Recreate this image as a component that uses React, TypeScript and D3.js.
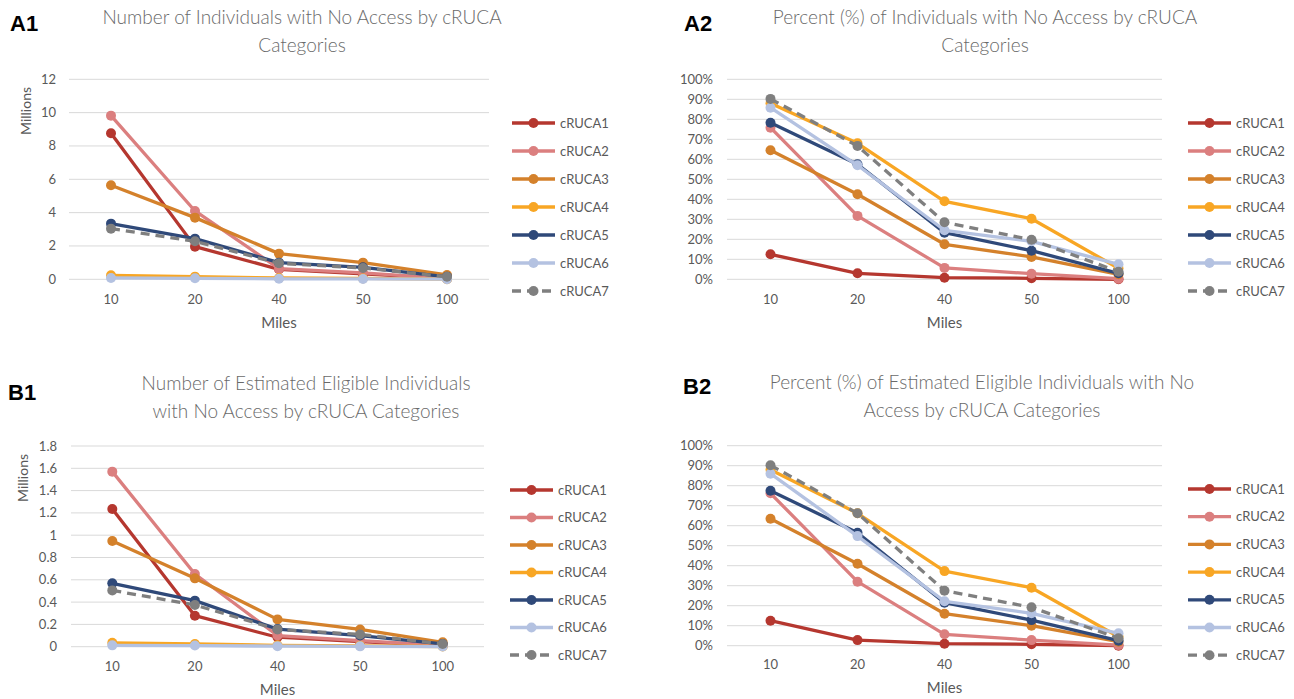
import React from "react";
import * as d3 from "d3";

const miles = ["10", "20", "40", "50", "100"];
const categories = ["cRUCA1", "cRUCA2", "cRUCA3", "cRUCA4", "cRUCA5", "cRUCA6", "cRUCA7"];
const colors = ["#B5372F", "#DB7F7F", "#D4812B", "#F8A624", "#2F4979", "#B4C2E1", "#7F7F7F"];

// A1: number of individuals with no access (millions)
const a1Millions = [
  [8.76, 1.96, 0.6, 0.32, 0.05],
  [9.82, 4.1, 0.64, 0.38, 0.04],
  [5.64, 3.7, 1.54, 1.0, 0.26],
  [0.24, 0.16, 0.08, 0.05, 0.01],
  [3.34, 2.44, 1.0, 0.72, 0.15],
  [0.08, 0.06, 0.03, 0.02, 0.01],
  [3.04, 2.28, 0.96, 0.68, 0.15],
];
// A2: percent of individuals with no access
const a2Percent = [
  [12.5, 3, 0.8, 0.5, 0],
  [75.8, 31.7, 5.7, 2.8, 0.3],
  [64.5, 42.5, 17.5, 11.2, 2.5],
  [88, 68, 39, 30.3, 5.5],
  [78.3, 57.5, 23.3, 14.3, 3],
  [85.8, 57, 24.5, 19, 7.5],
  [90.2, 66.7, 28.5, 19.8, 3.8],
];
// B1: number of estimated eligible individuals with no access (millions)
const b1Millions = [
  [1.235, 0.278, 0.085, 0.045, 0.01],
  [1.57, 0.652, 0.1, 0.055, 0.012],
  [0.948, 0.613, 0.245, 0.155, 0.039],
  [0.035, 0.025, 0.012, 0.008, 0.002],
  [0.568, 0.413, 0.158, 0.1, 0.025],
  [0.012, 0.01, 0.005, 0.003, 0.001],
  [0.505, 0.374, 0.155, 0.11, 0.025],
];
// B2: percent of estimated eligible individuals with no access
const b2Percent = [
  [12.5, 2.8, 1, 0.7, 0],
  [76.2, 32, 5.7, 2.8, 0.3],
  [63.5, 41, 16, 10, 2],
  [88, 66.2, 37.3, 29, 4.5],
  [77.5, 56.5, 21.5, 12.8, 2.5],
  [86, 54.8, 22.2, 16.2, 6.2],
  [90.2, 66.2, 27.5, 19.2, 3.7],
];

const aMillionTicks = [0, 2, 4, 6, 8, 10, 12];
const bMillionTicks = [0, 0.2, 0.4, 0.6, 0.8, 1, 1.2, 1.4, 1.6, 1.8];
const percentTicks = [0, 10, 20, 30, 40, 50, 60, 70, 80, 90, 100];

const titleA1 = ["Number of Individuals with No Access by cRUCA", "Categories"];
const titleA2 = ["Percent (%) of Individuals with No Access by cRUCA", "Categories"];
const titleB1 = ["Number of Estimated Eligible Individuals", "with No Access by cRUCA Categories"];
const titleB2 = ["Percent (%) of Estimated Eligible Individuals with No", "Access by cRUCA Categories"];

const FONT = "Lato, 'Open Sans', sans-serif";
const GRAY = "#595959";

type PanelProps = {
  tag: string;
  tagX: number;
  tagY: number;
  title: string[];
  titleX: number;
  titleY: number;
  values: number[][];
  ticks: number[];
  fmt: (v: number) => string;
  left: number;
  right: number;
  top: number;
  bottom: number;
  tickRight: number;
  xLabelY: number;
  milesY: number;
  yTitle?: { x: number; y: number };
  legendX: number;
  legendY: number;
  legendStep: number;
};

function Panel(p: PanelProps) {
  const x = d3.scalePoint<string>().domain(miles).range([p.left, p.right]).padding(0.5);
  const yMax = p.ticks[p.ticks.length - 1];
  const y = d3.scaleLinear().domain([0, yMax]).range([p.bottom, p.top]);
  const line = d3
    .line<number>()
    .x((_, i) => x(miles[i]) as number)
    .y((d) => y(d));
  const midX = (p.left + p.right) / 2;
  return (
    <g>
      <text x={p.tagX} y={p.tagY} fontFamily="'Liberation Sans', Arial, sans-serif" fontWeight="bold" fontSize={22} fill="#000">
        {p.tag}
      </text>
      {p.title.map((t, i) => (
        <text key={i} x={p.titleX} y={p.titleY + i * 28} textAnchor="middle" fontFamily={FONT} fontWeight={300} fontSize={19} fill="#6A6A6A">
          {t}
        </text>
      ))}
      {p.ticks.map((t) => (
        <g key={t}>
          <line x1={p.left} x2={p.right} y1={y(t)} y2={y(t)} stroke="#D9D9D9" strokeWidth={1} />
          <text x={p.tickRight} y={y(t) + 4.5} textAnchor="end" fontFamily={FONT} fontSize={13} fill={GRAY}>
            {p.fmt(t)}
          </text>
        </g>
      ))}
      {miles.map((m) => (
        <text key={m} x={x(m)} y={p.xLabelY} textAnchor="middle" fontFamily={FONT} fontSize={13} fill={GRAY}>
          {m}
        </text>
      ))}
      <text x={midX} y={p.milesY} textAnchor="middle" fontFamily={FONT} fontSize={15} fill={GRAY}>
        Miles
      </text>
      {p.yTitle && (
        <text
          transform={`translate(${p.yTitle.x},${p.yTitle.y}) rotate(-90)`}
          textAnchor="middle"
          fontFamily={FONT}
          fontSize={14}
          fill={GRAY}
        >
          Millions
        </text>
      )}
      {p.values.map((vals, si) => (
        <g key={si}>
          <path
            d={line(vals) as string}
            fill="none"
            stroke={colors[si]}
            strokeWidth={3.3}
            strokeLinejoin="round"
            strokeDasharray={si === 6 ? "9,6" : undefined}
          />
          {vals.map((v, i) => (
            <circle key={i} cx={x(miles[i])} cy={y(v)} r={5} fill={colors[si]} />
          ))}
        </g>
      ))}
      {categories.map((c, i) => {
        const ly = p.legendY + i * p.legendStep;
        return (
          <g key={c}>
            <line
              x1={p.legendX}
              x2={p.legendX + 43}
              y1={ly}
              y2={ly}
              stroke={colors[i]}
              strokeWidth={3.3}
              strokeDasharray={i === 6 ? "9,6" : undefined}
            />
            <circle cx={p.legendX + 21.5} cy={ly} r={5} fill={colors[i]} />
            <text x={p.legendX + 48} y={ly + 4.5} fontFamily={FONT} fontSize={13} fill={GRAY}>
              {c}
            </text>
          </g>
        );
      })}
    </g>
  );
}

const fmtNum = (v: number) => d3.format("~g")(v);
const fmtPct = (v: number) => `${v}%`;

export default function App() {
  return (
    <div style={{ position: "absolute", left: 0, top: 0 }}>
      <svg width={1294} height={699} style={{ display: "block", background: "#fff" }}>
        <Panel
          tag="A1"
          tagX={10}
          tagY={31}
          title={titleA1}
          titleX={302}
          titleY={24}
          values={a1Millions}
          ticks={aMillionTicks}
          fmt={fmtNum}
          left={69}
          right={489}
          top={79.3}
          bottom={279.3}
          tickRight={56}
          xLabelY={303.5}
          milesY={328}
          yTitle={{ x: 31, y: 111 }}
          legendX={512}
          legendY={123}
          legendStep={28}
        />
        <Panel
          tag="A2"
          tagX={684}
          tagY={31}
          title={titleA2}
          titleX={985}
          titleY={24}
          values={a2Percent}
          ticks={percentTicks}
          fmt={fmtPct}
          left={727}
          right={1162}
          top={79.3}
          bottom={279.3}
          tickRight={713}
          xLabelY={303.5}
          milesY={328}
          legendX={1188}
          legendY={123}
          legendStep={28}
        />
        <Panel
          tag="B1"
          tagX={8}
          tagY={400}
          title={titleB1}
          titleX={306}
          titleY={390}
          values={b1Millions}
          ticks={bMillionTicks}
          fmt={fmtNum}
          left={71}
          right={484}
          top={446}
          bottom={646.7}
          tickRight={57}
          xLabelY={670.5}
          milesY={695}
          yTitle={{ x: 28, y: 478 }}
          legendX={510}
          legendY={490}
          legendStep={27.5}
        />
        <Panel
          tag="B2"
          tagX={683}
          tagY={394}
          title={titleB2}
          titleX={982}
          titleY={389}
          values={b2Percent}
          ticks={percentTicks}
          fmt={fmtPct}
          left={727}
          right={1162}
          top={445.7}
          bottom={645.7}
          tickRight={713}
          xLabelY={668.5}
          milesY={693}
          legendX={1188}
          legendY={489}
          legendStep={27.7}
        />
      </svg>
    </div>
  );
}
